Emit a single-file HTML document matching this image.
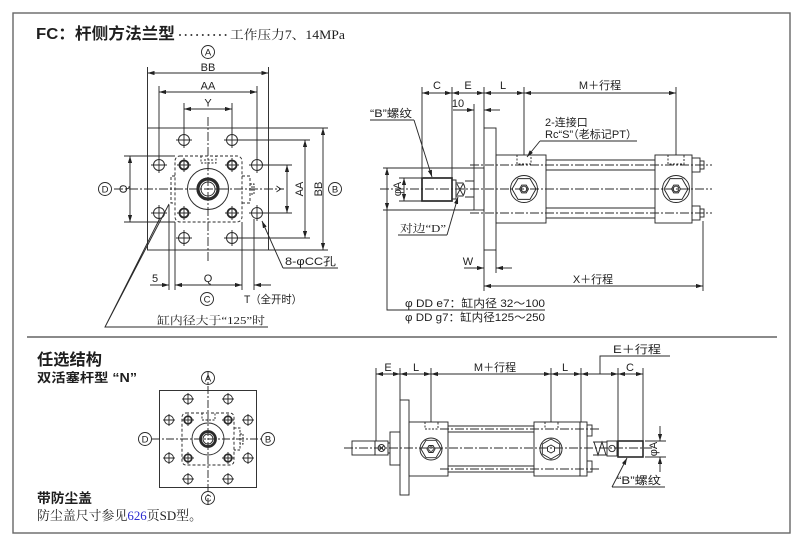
<!DOCTYPE html>
<html><head><meta charset="utf-8">
<style>
html,body{margin:0;padding:0;background:#fff;}
svg{display:block;}
text{font-family:"Liberation Sans","Noto Sans CJK SC",sans-serif;fill:#1e1e1e;stroke:none;}
.s{font-family:"Liberation Serif","Noto Serif CJK SC",serif;}
</style></head><body>
<svg width="800" height="539" viewBox="0 0 800 539" xmlns="http://www.w3.org/2000/svg">
<defs>
<marker id="ar" viewBox="0 0 10 6" refX="10" refY="3" markerWidth="7" markerHeight="4.2" markerUnits="userSpaceOnUse" orient="auto-start-reverse"><path d="M0,0 L10,3 L0,6 z" fill="#222"/></marker>
</defs>

<!-- frame -->
<rect x="13" y="13" width="777" height="520" fill="none" stroke="#666" stroke-width="1.4"/>
<line x1="27" y1="337" x2="777" y2="337" stroke="#444" stroke-width="1.3"/>

<!-- title -->
<text x="36" y="39" font-size="16" font-weight="bold" textLength="139" lengthAdjust="spacingAndGlyphs">FC：杆侧方法兰型</text>
<g fill="#333">
<circle cx="180" cy="35" r="1"/><circle cx="185.7" cy="35" r="1"/><circle cx="191.4" cy="35" r="1"/>
<circle cx="197.1" cy="35" r="1"/><circle cx="202.8" cy="35" r="1"/><circle cx="208.5" cy="35" r="1"/>
<circle cx="214.2" cy="35" r="1"/><circle cx="219.9" cy="35" r="1"/><circle cx="225.6" cy="35" r="1"/>
</g>
<text class="s" x="230" y="39" font-size="12.5" textLength="115" lengthAdjust="spacingAndGlyphs">工作压力7、14MPa</text>

<!-- ============ FRONT VIEW (top-left) ============ -->
<g stroke="#2a2a2a" stroke-width="0.95" fill="none">
<rect x="147.5" y="128" width="121" height="122"/>
<line x1="208" y1="117" x2="208" y2="262" stroke-dasharray="9 2 2 2"/>
<line x1="114" y1="189" x2="282" y2="189" stroke-dasharray="9 2 2 2"/>
<rect x="175" y="156" width="67" height="66" rx="5" stroke-dasharray="3 2"/>
<path d="M201,156 V163 H216 V156 M204,160 H213" stroke-dasharray="2 1.5"/>
<path d="M175,176 H171 V203 H175" stroke-dasharray="3 2"/>
<path d="M242,176 H250 V203 H242" stroke-dasharray="3 2"/>
<path d="M250,184 H254 V194 H250 M252,186 V192" stroke-dasharray="2 1"/>
<circle cx="208" cy="189" r="20.5"/>
<circle cx="208" cy="189" r="10" stroke-width="3.2"/>
<circle cx="208" cy="189" r="7"/>
<!-- outer holes -->
<circle cx="184" cy="140" r="5.5"/><path d="M176,140 H192 M184,132 V148"/>
<circle cx="232" cy="140" r="5.5"/><path d="M224,140 H240 M232,132 V148"/>
<circle cx="159" cy="165" r="5.5"/><path d="M151,165 H167 M159,157 V173"/>
<circle cx="257" cy="165" r="5.5"/><path d="M249,165 H265 M257,157 V173"/>
<circle cx="159" cy="213" r="5.5"/><path d="M151,213 H167 M159,205 V221"/>
<circle cx="257" cy="213" r="5.5"/><path d="M249,213 H265 M257,205 V221"/>
<circle cx="184" cy="238" r="5.5"/><path d="M176,238 H192 M184,230 V246"/>
<circle cx="232" cy="238" r="5.5"/><path d="M224,238 H240 M232,230 V246"/>
<!-- inner bold holes -->
<circle cx="184" cy="165" r="4.5" stroke-width="1.8"/><path d="M177,165 H191 M184,158 V172"/>
<circle cx="232" cy="165" r="4.5" stroke-width="1.8"/><path d="M225,165 H239 M232,158 V172"/>
<circle cx="184" cy="213" r="4.5" stroke-width="1.8"/><path d="M177,213 H191 M184,206 V220"/>
<circle cx="232" cy="213" r="4.5" stroke-width="1.8"/><path d="M225,213 H239 M232,206 V220"/>

<!-- top dims -->
<line x1="147.5" y1="67" x2="147.5" y2="128"/><line x1="268.5" y1="67" x2="268.5" y2="128"/>
<line x1="147.5" y1="73" x2="268.5" y2="73" marker-start="url(#ar)" marker-end="url(#ar)"/>
<line x1="159" y1="86" x2="159" y2="158"/><line x1="257" y1="86" x2="257" y2="158"/>
<line x1="159" y1="92" x2="257" y2="92" marker-start="url(#ar)" marker-end="url(#ar)"/>
<line x1="184" y1="103" x2="184" y2="133"/><line x1="232" y1="103" x2="232" y2="133"/>
<line x1="184" y1="109" x2="232" y2="109" marker-start="url(#ar)" marker-end="url(#ar)"/>
<!-- left Q -->
<line x1="124" y1="156" x2="175" y2="156"/><line x1="124" y1="222" x2="175" y2="222"/>
<line x1="130" y1="156" x2="130" y2="222" marker-start="url(#ar)" marker-end="url(#ar)"/>
<!-- right dims -->
<line x1="263" y1="165" x2="292" y2="165"/><line x1="263" y1="213" x2="292" y2="213"/>
<line x1="287" y1="165" x2="287" y2="213" marker-start="url(#ar)" marker-end="url(#ar)"/>
<line x1="238" y1="140" x2="310" y2="140"/><line x1="238" y1="238" x2="310" y2="238"/>
<line x1="305" y1="140" x2="305" y2="238" marker-start="url(#ar)" marker-end="url(#ar)"/>
<line x1="269" y1="128" x2="328" y2="128"/><line x1="269" y1="250" x2="328" y2="250"/>
<line x1="323" y1="128" x2="323" y2="250" marker-start="url(#ar)" marker-end="url(#ar)"/>
<!-- bottom dims -->
<line x1="169" y1="205" x2="169" y2="290"/><line x1="175" y1="222" x2="175" y2="290"/>
<line x1="242" y1="222" x2="242" y2="290"/><line x1="254" y1="219" x2="254" y2="290"/>
<line x1="150" y1="285" x2="169" y2="285" marker-end="url(#ar)"/>
<line x1="175" y1="285" x2="242" y2="285" marker-start="url(#ar)" marker-end="url(#ar)"/>
<line x1="271" y1="285" x2="254" y2="285" marker-end="url(#ar)"/>
<!-- leaders -->
<path d="M338,268 H283" />
<line x1="283" y1="268" x2="262" y2="221" marker-end="url(#ar)"/>
<path d="M268,327 H105 L169,204 M105,327 L160,218"/>
<!-- circle labels -->
<circle cx="208" cy="52" r="6.5"/><circle cx="105" cy="189" r="6.5"/>
<circle cx="335" cy="189" r="6.5"/><circle cx="207" cy="299" r="6.5"/>
</g>
<g font-size="9.5" text-anchor="middle">
<text x="208" y="55.5">A</text><text x="105" y="192.5">D</text>
<text x="335" y="192.5">B</text><text x="207" y="302.5">C</text>
</g>
<g font-size="11" text-anchor="middle">
<text x="208" y="71">BB</text>
<text x="208" y="89.5">AA</text>
<text x="208" y="106.5">Y</text>
<text x="155" y="282">5</text>
<text x="208" y="282">Q</text>
<text transform="translate(127,189) rotate(-90)">Q</text>
<text transform="translate(284,189) rotate(-90)">Y</text>
<text transform="translate(303,189) rotate(-90)">AA</text>
<text transform="translate(322,189) rotate(-90)">BB</text>
</g>
<text x="244" y="303" font-size="11" textLength="58" lengthAdjust="spacingAndGlyphs">T（全开时）</text>
<text x="285" y="265" font-size="11" textLength="51" lengthAdjust="spacingAndGlyphs">8-φCC孔</text>
<text class="s" x="157" y="324" font-size="11" textLength="108" lengthAdjust="spacingAndGlyphs">缸内径大于“125”时</text>

<!-- ============ SIDE VIEW (top-right) ============ -->
<g stroke="#2a2a2a" stroke-width="0.95" fill="none">
<line x1="380" y1="189" x2="712" y2="189" stroke-dasharray="9 2 2 2"/>
<line x1="470" y1="165" x2="712" y2="165" stroke-dasharray="9 2 2 2"/>
<line x1="470" y1="213" x2="712" y2="213" stroke-dasharray="9 2 2 2"/>
<rect x="474" y="168" width="10" height="42"/>
<rect x="484" y="128" width="12" height="122"/>
<rect x="496" y="155" width="50" height="68"/>
<rect x="655" y="155" width="37" height="68"/>
<path d="M546,160 H655 M546,170 H655 M546,208 H655 M546,218 H655"/>
<rect x="692" y="158" width="8" height="14"/><rect x="700" y="161" width="4" height="8"/>
<rect x="692" y="206" width="8" height="14"/><rect x="700" y="209" width="4" height="8"/>
<path d="M517,155 V164 H531 V155" stroke-dasharray="2 1.5"/>
<path d="M668,155 V164 H684 V155" stroke-dasharray="2 1.5"/>
<!-- hexes -->
<circle cx="524" cy="189" r="13.5"/>
<polygon points="536,189 530,178.6 518,178.6 512,189 518,199.4 530,199.4"/>
<polygon points="528.5,189 526.25,185.1 521.75,185.1 519.5,189 521.75,192.9 526.25,192.9"/>
<circle cx="524" cy="189" r="2.8"/>
<circle cx="676" cy="189" r="13.5"/>
<polygon points="688,189 682,178.6 670,178.6 664,189 670,199.4 682,199.4"/>
<polygon points="680.5,189 678.25,185.1 673.75,185.1 671.5,189 673.75,192.9 678.25,192.9"/>
<circle cx="676" cy="189" r="2.8"/>
<!-- rod -->
<rect x="422" y="178" width="30" height="23" stroke-width="1.7"/>
<path d="M452,180 H456 V199 H452"/>
<path d="M456,183 H463 Q467,189.5 463,196 H456 Z"/>
<path d="M457,184 L463,195 M463,184 L457,195"/>
<path d="M465,181 H474 M465,197 H474"/>
<!-- top dims -->
<line x1="422" y1="87" x2="422" y2="177"/><line x1="452" y1="87" x2="452" y2="178"/>
<line x1="484" y1="87" x2="484" y2="128"/><line x1="474" y1="104" x2="474" y2="168"/>
<line x1="524" y1="87" x2="524" y2="155"/><line x1="676" y1="87" x2="676" y2="155"/>
<line x1="422" y1="93" x2="452" y2="93" marker-start="url(#ar)" marker-end="url(#ar)"/>
<line x1="452" y1="93" x2="484" y2="93" marker-start="url(#ar)" marker-end="url(#ar)"/>
<line x1="484" y1="93" x2="524" y2="93" marker-start="url(#ar)" marker-end="url(#ar)"/>
<line x1="524" y1="93" x2="676" y2="93" marker-start="url(#ar)" marker-end="url(#ar)"/>
<line x1="453" y1="110" x2="474" y2="110" marker-end="url(#ar)"/>
<line x1="500" y1="110" x2="484" y2="110" marker-end="url(#ar)"/>
<!-- phi A & DD -->
<line x1="399" y1="178" x2="422" y2="178"/><line x1="399" y1="201" x2="422" y2="201"/>
<line x1="404" y1="178" x2="404" y2="201" marker-start="url(#ar)" marker-end="url(#ar)"/>
<line x1="383" y1="168" x2="474" y2="168"/><line x1="383" y1="210" x2="474" y2="210"/>
<line x1="387" y1="168" x2="387" y2="210" marker-start="url(#ar)" marker-end="url(#ar)"/>
<path d="M387,210 V310 H545"/>
<!-- leaders -->
<path d="M370,120 H414"/><line x1="414" y1="120" x2="432" y2="177" marker-end="url(#ar)"/>
<path d="M398,235 H447"/><line x1="447" y1="235" x2="458" y2="197" marker-end="url(#ar)"/>
<path d="M637,141 H540"/><line x1="540" y1="141" x2="527" y2="157" marker-end="url(#ar)"/>
<!-- W & X -->
<line x1="484" y1="250" x2="484" y2="291"/><line x1="496" y1="250" x2="496" y2="273"/>
<line x1="703" y1="221" x2="703" y2="291"/>
<line x1="464" y1="268" x2="484" y2="268" marker-end="url(#ar)"/>
<line x1="512" y1="268" x2="496" y2="268" marker-end="url(#ar)"/>
<line x1="484" y1="286" x2="703" y2="286" marker-start="url(#ar)" marker-end="url(#ar)"/>
</g>
<g font-size="11">
<text x="437" y="89" text-anchor="middle">C</text>
<text x="468" y="89" text-anchor="middle">E</text>
<text x="503" y="89" text-anchor="middle">L</text>
<text x="600" y="89" text-anchor="middle">M＋行程</text>
<text x="458" y="107" text-anchor="middle">10</text>
<text x="370" y="117" textLength="42" lengthAdjust="spacingAndGlyphs">“B”螺纹</text>
<text x="545" y="126">2-连接口</text>
<text x="545" y="138" textLength="92" lengthAdjust="spacingAndGlyphs">Rc“S”（老标记PT）</text>
<text class="s" x="400" y="232" textLength="46" lengthAdjust="spacingAndGlyphs">对边“D”</text>
<text x="468" y="265" text-anchor="middle">W</text>
<text x="593" y="283" text-anchor="middle">X＋行程</text>
<text transform="translate(401,189) rotate(-90)" text-anchor="middle">φA</text>
<text x="405" y="307" textLength="140" lengthAdjust="spacingAndGlyphs">φ DD e7：缸内径 32～100</text>
<text x="405" y="321" textLength="140" lengthAdjust="spacingAndGlyphs">φ DD g7：缸内径125～250</text>
</g>

<!-- ============ BOTTOM LEFT ============ -->
<text x="37" y="365" font-size="16" font-weight="bold" textLength="65" lengthAdjust="spacingAndGlyphs">任选结构</text>
<text x="37" y="382" font-size="12.5" font-weight="bold" textLength="100" lengthAdjust="spacingAndGlyphs">双活塞杆型 “N”</text>
<text x="37" y="503" font-size="13.5" font-weight="bold" textLength="55" lengthAdjust="spacingAndGlyphs">带防尘盖</text>
<text class="s" x="37" y="520" font-size="13" textLength="165" lengthAdjust="spacingAndGlyphs">防尘盖尺寸参见<tspan fill="#2b2bd0">626</tspan>页SD型。</text>

<g stroke="#2a2a2a" stroke-width="0.95" fill="none">
<rect x="159.5" y="390.5" width="97" height="97"/>
<line x1="208" y1="372" x2="208" y2="505" stroke-dasharray="8 2 2 2"/>
<line x1="152" y1="439" x2="262" y2="439" stroke-dasharray="8 2 2 2"/>
<rect x="182" y="413" width="52" height="52" rx="4" stroke-dasharray="3 2"/>
<path d="M202,413 V420 H215 V413" stroke-dasharray="2 1.5"/>
<path d="M234,428 H240 V450 H234" stroke-dasharray="2.5 1.5"/>
<path d="M240,434 H243 V444 H240" stroke-dasharray="2 1"/>
<circle cx="208" cy="439" r="16"/>
<circle cx="208" cy="439" r="7.5" stroke-width="2.8"/>
<circle cx="208" cy="439" r="5"/>
<circle cx="188" cy="399" r="4.5"/><path d="M182,399 H194 M188,393 V405"/>
<circle cx="228" cy="399" r="4.5"/><path d="M222,399 H234 M228,393 V405"/>
<circle cx="169" cy="420" r="4.5"/><path d="M163,420 H175 M169,414 V426"/>
<circle cx="248" cy="420" r="4.5"/><path d="M242,420 H254 M248,414 V426"/>
<circle cx="169" cy="458" r="4.5"/><path d="M163,458 H175 M169,452 V464"/>
<circle cx="248" cy="458" r="4.5"/><path d="M242,458 H254 M248,452 V464"/>
<circle cx="188" cy="479" r="4.5"/><path d="M182,479 H194 M188,473 V485"/>
<circle cx="228" cy="479" r="4.5"/><path d="M222,479 H234 M228,473 V485"/>
<circle cx="188" cy="420" r="3.8" stroke-width="1.7"/><path d="M182,420 H194 M188,414 V426"/>
<circle cx="228" cy="420" r="3.8" stroke-width="1.7"/><path d="M222,420 H234 M228,414 V426"/>
<circle cx="188" cy="458" r="3.8" stroke-width="1.7"/><path d="M182,458 H194 M188,452 V464"/>
<circle cx="228" cy="458" r="3.8" stroke-width="1.7"/><path d="M222,458 H234 M228,452 V464"/>
<circle cx="208" cy="378" r="6.5"/><circle cx="208" cy="498" r="6.5"/>
<circle cx="145" cy="439" r="6.5"/><circle cx="268" cy="439" r="6.5"/>
</g>
<g font-size="9.5" text-anchor="middle">
<text x="208" y="381.5">A</text><text x="208" y="501.5">C</text>
<text x="145" y="442.5">D</text><text x="268" y="442.5">B</text>
</g>

<!-- ============ BOTTOM RIGHT ============ -->
<g stroke="#2a2a2a" stroke-width="0.95" fill="none">
<line x1="344" y1="448" x2="652" y2="448" stroke-dasharray="9 2 2 2"/>
<line x1="440" y1="429" x2="600" y2="429" stroke-dasharray="9 2 2 2"/>
<line x1="440" y1="469" x2="600" y2="469" stroke-dasharray="9 2 2 2"/>
<rect x="352" y="441" width="23" height="14"/>
<rect x="375" y="441" width="13" height="14"/>
<circle cx="381.5" cy="448" r="3.5"/>
<path d="M379,445.5 L384,450.5 M384,445.5 L379,450.5"/>
<path d="M388,443 H390 M388,453 H390"/>
<rect x="390" y="432" width="10" height="33"/>
<rect x="400" y="400" width="9" height="95"/>
<rect x="409" y="422" width="39" height="54"/>
<path d="M425,422 V429 H438 V422" stroke-dasharray="2 1.5"/>
<circle cx="431" cy="449" r="11"/>
<polygon points="441,449 436,440.3 426,440.3 421,449 426,457.7 436,457.7"/>
<polygon points="435,449 433,445.5 429,445.5 427,449 429,452.5 433,452.5"/>
<circle cx="431" cy="449" r="2.3"/>
<path d="M448,426 H534 M448,432 H534 M448,466 H534 M448,472 H534"/>
<rect x="534" y="422" width="46" height="54"/>
<path d="M545,422 V429 H558 V422" stroke-dasharray="2 1.5"/>
<circle cx="551" cy="449" r="11"/>
<polygon points="559.7,454 551,459 542.3,454 542.3,444 551,439 559.7,444"/>
<polygon points="554.5,451 551,453 547.5,451 547.5,447 551,445 554.5,447"/>
<rect x="580" y="422" width="7" height="54"/>
<rect x="587" y="425" width="5" height="11"/>
<rect x="587" y="461" width="5" height="11"/>
<path d="M593,442 H607 M593,455 H607 M594,442 L598,455 L602,442 L606,455"/>
<rect x="607" y="441" width="10" height="15"/>
<circle cx="612" cy="448.5" r="3.2"/>
<rect x="618" y="441" width="25" height="16" stroke-width="1.6"/>
<!-- dims -->
<line x1="376" y1="368" x2="376" y2="441"/><line x1="400" y1="368" x2="400" y2="400"/>
<line x1="431" y1="368" x2="431" y2="422"/><line x1="551" y1="368" x2="551" y2="422"/>
<line x1="581" y1="368" x2="581" y2="422"/><line x1="618" y1="368" x2="618" y2="441"/>
<line x1="643" y1="368" x2="643" y2="441"/>
<line x1="376" y1="374" x2="400" y2="374" marker-start="url(#ar)" marker-end="url(#ar)"/>
<line x1="400" y1="374" x2="431" y2="374" marker-start="url(#ar)" marker-end="url(#ar)"/>
<line x1="431" y1="374" x2="551" y2="374" marker-start="url(#ar)" marker-end="url(#ar)"/>
<line x1="551" y1="374" x2="581" y2="374" marker-start="url(#ar)" marker-end="url(#ar)"/>
<line x1="581" y1="374" x2="618" y2="374" marker-start="url(#ar)" marker-end="url(#ar)"/>
<line x1="618" y1="374" x2="643" y2="374" marker-start="url(#ar)" marker-end="url(#ar)"/>
<path d="M600,374 V356 H670"/>
<line x1="645" y1="441" x2="666" y2="441"/><line x1="645" y1="457" x2="666" y2="457"/>
<line x1="660" y1="426" x2="660" y2="441" marker-end="url(#ar)"/>
<line x1="660" y1="472" x2="660" y2="457" marker-end="url(#ar)"/>
<path d="M665,487 H612"/><line x1="612" y1="487" x2="627" y2="458" marker-end="url(#ar)"/>
</g>
<g font-size="11">
<text x="388" y="371" text-anchor="middle">E</text>
<text x="416" y="371" text-anchor="middle">L</text>
<text x="495" y="371" text-anchor="middle">M＋行程</text>
<text x="565" y="371" text-anchor="middle">L</text>
<text x="630" y="371" text-anchor="middle">C</text>
<text x="613" y="353" textLength="48" lengthAdjust="spacingAndGlyphs">E＋行程</text>
<text transform="translate(657,449) rotate(-90)" text-anchor="middle">φA</text>
<text x="617" y="484" textLength="44" lengthAdjust="spacingAndGlyphs">“B”螺纹</text>
</g>
</svg>
</body></html>
